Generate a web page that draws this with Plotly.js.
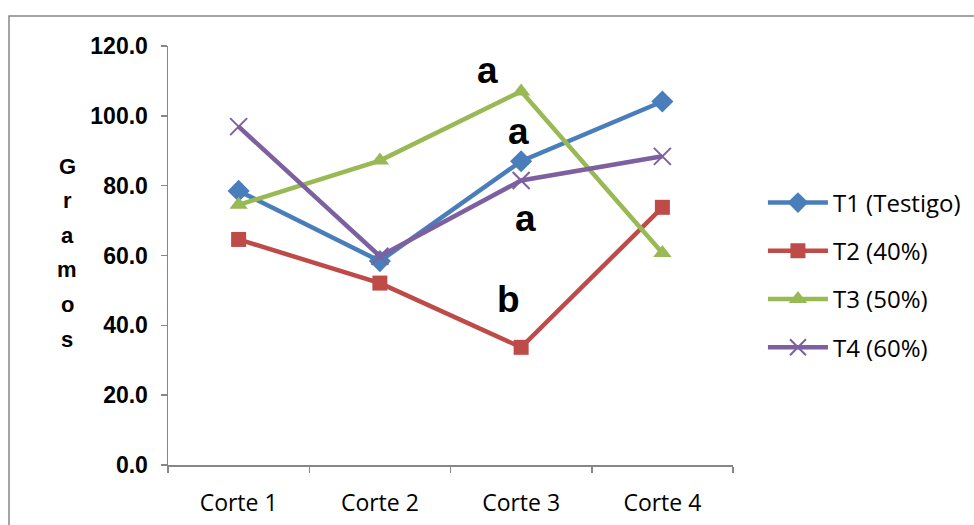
<!DOCTYPE html>
<html>
<head>
<meta charset="utf-8">
<script src="https://cdn.plot.ly/plotly-3.0.1.min.js"></script>
<style>
html,body{margin:0;padding:0;background:#fff;}
#chart{width:974px;height:525px;}
</style>
</head>
<body>
<div id="chart"></div>
<script>
// ---- data ----
const categories = ["Corte 1", "Corte 2", "Corte 3", "Corte 4"];
const seriesNames = ["T1 (Testigo)", "T2 (40%)", "T3 (50%)", "T4 (60%)"];
const t1 = [78.5, 58.4, 87.0, 104.1];
const t2 = [64.6, 52.1, 33.7, 73.8];
const t3 = [74.5, 87.2, 107.0, 60.7];
const t4 = [96.9, 59.8, 81.5, 88.4];
const yTickVals = [0, 20, 40, 60, 80, 100, 120];
const letterLabels = ["a", "a", "a", "b"];
const letterX = [1.76, 1.98, 2.03, 1.91];
const letterY = [113.0, 95.5, 70.7, 47.5];
const yTitle = "Gramos";

// ---- styles ----
const colors = ["#4A7EBB", "#BE4B48", "#98B954", "#7D60A0"];
const symbols = ["diamond", "square", "triangle-up", "x-thin-open"];
const sizes = [17, 15, 16, 17];
const values = [t1, t2, t3, t4];

const traces = values.map((v, i) => ({
  type: "scatter",
  mode: "lines+markers",
  x: categories,
  y: v,
  name: seriesNames[i],
  legendgroup: "g" + i,
  line: {color: colors[i], width: 4.5},
  marker: {
    symbol: symbols[i],
    size: sizes[i],
    color: colors[i],
    line: {color: colors[i], width: i === 3 ? 2 : 0}
  },
  cliponaxis: false
}));

const annotations = letterLabels.map((t, i) => ({
  x: letterX[i], y: letterY[i], xref: "x", yref: "y",
  text: t, showarrow: false,
  font: {family: "Liberation Sans, Arial, sans-serif", size: 37, color: "#000", weight: "bold"}
}));

// vertical stacked y-axis title
const letters = yTitle.split("");
letters.forEach((ch, i) => {
  annotations.push({
    xref: "paper", yref: "paper",
    x: (67 - 168) / 565,
    y: (465 - (166 + i * 34.6)) / 419,
    text: "<b>" + ch + "</b>", showarrow: false,
    xanchor: "center", yanchor: "middle",
    font: {family: "Liberation Sans, Arial, sans-serif", size: 22, color: "#000"}
  });
});

const layout = {
  width: 974, height: 525,
  margin: {l: 168, r: 241, t: 46, b: 60, pad: 0, autoexpand: false},
  paper_bgcolor: "#fff", plot_bgcolor: "#fff",
  showlegend: true,
  legend: {
    x: 1.053, xanchor: "left", y: 0.679, yanchor: "top",
    traceorder: "grouped", tracegroupgap: 14,
    font: {family: "Open Sans, sans-serif", size: 24, color: "#000"},
    bgcolor: "rgba(0,0,0,0)", itemwidth: 60
  },
  xaxis: {
    type: "category",
    showline: true, linecolor: "#868686", linewidth: 1.5,
    ticks: "outside", ticklen: 6, tickcolor: "#868686", tickwidth: 1.5,
    tickson: "boundaries",
    showgrid: false, zeroline: false,
    tickfont: {family: "Open Sans, sans-serif", size: 23, color: "#000"},
    ticklabelstandoff: 17,
    range: [-0.5, 3.5]
  },
  yaxis: {
    range: [0, 120],
    tickvals: yTickVals,
    tickformat: ".1f",
    showline: true, linecolor: "#868686", linewidth: 1.5,
    ticks: "outside", ticklen: 6, tickcolor: "#868686", tickwidth: 1.5,
    showgrid: false, zeroline: false,
    tickfont: {family: "Liberation Sans, Arial, sans-serif", size: 23, color: "#000", weight: "bold"},
    ticklabelstandoff: 8
  },
  annotations: annotations,
  shapes: [{
    type: "rect", xref: "paper", yref: "paper",
    x0: (9 - 168) / 565, x1: (990 - 168) / 565,
    y0: (465 - 540) / 419, y1: (465 - 16) / 419,
    line: {color: "#868686", width: 1.5}, fillcolor: "rgba(0,0,0,0)", layer: "below"
  }]
};

Plotly.newPlot("chart", traces, layout, {staticPlot: true, displayModeBar: false});
</script>
</body>
</html>
